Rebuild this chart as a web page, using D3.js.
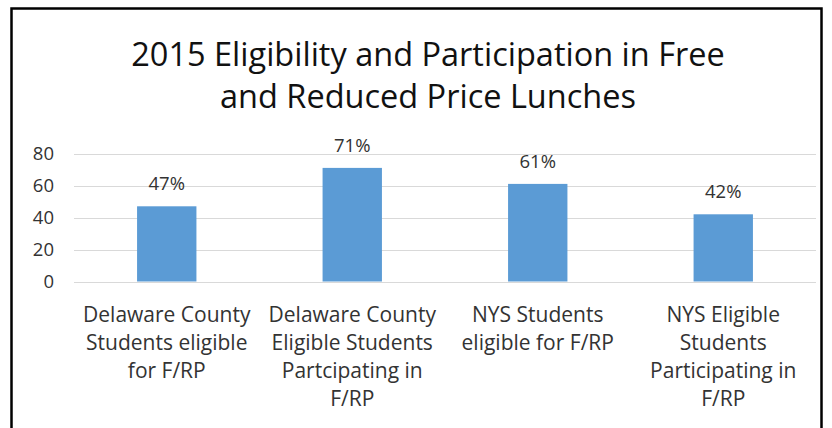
<!DOCTYPE html>
<html><head><meta charset="utf-8">
<script src="https://cdn.jsdelivr.net/npm/d3@7"></script>
<style>body{margin:0;background:#fff}svg{display:block}</style>
</head><body><svg id="c" width="832" height="428"></svg>
<script>
const categories = [
  ["Delaware County","Students eligible","for F/RP"],
  ["Delaware County","Eligible Students","Partcipating in","F/RP"],
  ["NYS Students","eligible for F/RP"],
  ["NYS Eligible","Students","Participating in","F/RP"]
];
const values = [47, 71, 61, 42];
const yTicks = [0, 20, 40, 60, 80];
const titleLines = ["2015 Eligibility and Participation in Free", "and Reduced Price Lunches"];

const svg = d3.select("#c");
const font = "'Open Sans', Lato, sans-serif";
svg.append("rect").attr("x",11.5).attr("y",8.5).attr("width",810).attr("height",430)
  .attr("fill","#fff").attr("stroke","#000").attr("stroke-width",2.5);

const x = d3.scaleBand().domain(d3.range(categories.length)).range([74,816]).paddingInner(0.68).paddingOuter(0.34);
const y = d3.scaleLinear().domain([0,80]).range([281.5,153.5]);

const grid = svg.append("g");
grid.selectAll("line").data(yTicks).join("line")
  .attr("x1",74).attr("x2",816).attr("y1",d=>Math.round(y(d))+0.5).attr("y2",d=>Math.round(y(d))+0.5)
  .attr("stroke","#d9d9d9").attr("stroke-width",1);

const yAxis = svg.append("g").attr("transform","translate(54,0)")
  .call(d3.axisLeft(y).tickValues(yTicks).tickSize(0).tickPadding(0));
yAxis.select(".domain").remove();
yAxis.selectAll("text").attr("font-family",font).attr("font-size",18.5).attr("fill","#333");

svg.append("g").selectAll("rect").data(values).join("rect")
  .attr("x",(d,i)=>x(i)).attr("width",x.bandwidth())
  .attr("y",d=>y(d)).attr("height",d=>y(0)-y(d))
  .attr("fill","#5b9bd5");

svg.append("g").selectAll("text").data(values).join("text")
  .attr("x",(d,i)=>x(i)+x.bandwidth()/2).attr("y",d=>y(d)-16)
  .attr("text-anchor","middle").attr("font-family",font).attr("font-size",18.5).attr("fill","#333")
  .text(d=>d+"%");

const cat = svg.append("g");
categories.forEach((lines,i)=>{
  const t = cat.append("text").attr("text-anchor","middle").attr("font-family",font)
    .attr("font-size",21).attr("fill","#333");
  lines.forEach((l,j)=>t.append("tspan").attr("x",x(i)+x.bandwidth()/2).attr("y",322+j*28).text(l));
});

const title = svg.append("text").attr("text-anchor","middle").attr("font-family",font)
  .attr("font-size",32.5).attr("fill","#111");
titleLines.forEach((l,j)=>title.append("tspan").attr("x",428).attr("y",66+j*42).text(l));
</script></body></html>
